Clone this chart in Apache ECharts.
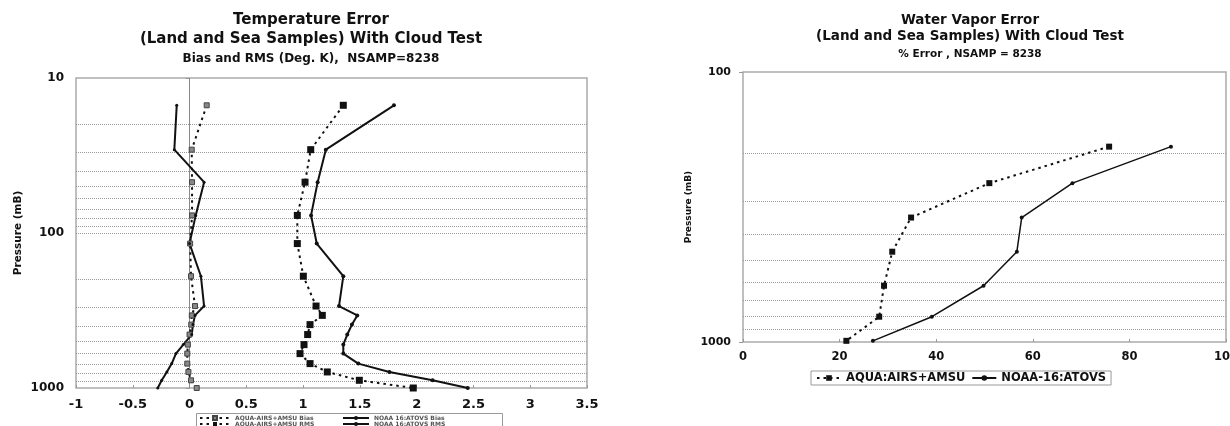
<!DOCTYPE html>
<html>
<head>
<meta charset="utf-8">
<script src="https://cdn.jsdelivr.net/npm/echarts@6/dist/echarts.min.js"></script>
<style>
  html, body { margin: 0; padding: 0; background: #fff; }
  #chart { width: 1230px; height: 426px; }
</style>
</head>
<body>
<div id="chart"></div>
<script>
// temperature panel: pressure levels (mB) and errors (deg K)
const tempLevels = [15, 29, 47, 77, 117, 190, 296, 340, 390, 452, 525, 600, 696, 788, 892, 1000];
const aquaBias = [0.151, 0.019, 0.022, 0.022, 0.005, 0.013, 0.048, 0.02, 0.015, 0.0, -0.015, -0.02, -0.02, -0.01, 0.013, 0.063];
const aquaRms = [1.354, 1.067, 1.017, 0.949, 0.949, 1.002, 1.114, 1.169, 1.061, 1.04, 1.008, 0.973, 1.061, 1.213, 1.495, 1.97];
const noaaBias = [-0.113, -0.134, 0.128, 0.054, 0.0, 0.10, 0.128, 0.048, 0.03, 0.019, -0.055, -0.12, -0.157, -0.2, -0.245, -0.28];
const noaaRms = [1.80, 1.20, 1.128, 1.07, 1.12, 1.354, 1.316, 1.477, 1.43, 1.389, 1.354, 1.354, 1.486, 1.76, 2.14, 2.45];

// water vapour panel: pressure levels (mB) and % error
const wvLevels = [189, 258, 346, 463, 619, 806, 990];
const aquaWv = [75.8, 51.0, 34.8, 30.9, 29.2, 28.2, 21.4];
const noaaWv = [88.6, 68.2, 57.7, 56.7, 49.8, 39.1, 26.9];

// dotted horizontal grid levels
const tempGrid = [20, 30, 40, 50, 60, 70, 80, 90, 100, 200, 300, 400, 500, 600, 700, 800, 900];
const wvGrid = [200, 300, 400, 500, 600, 700, 800, 900];

const FONT = 'DejaVu Sans';
const INK = '#111';

const pairs = (xs, ps) => xs.map((x, i) => [x, ps[i]]);
const bold = (size, extra) => Object.assign({fontFamily: FONT, fontWeight: 'bold', fontSize: size, color: INK}, extra || {});
const gridLines = (levels) => levels.map(p => ({yAxis: p, lineStyle: {type: 'dotted', color: '#9a9a9a', width: 1}}));

const titleLine = (text, x, top, size) => ({
  text, left: x, top, textAlign: 'center', padding: 0,
  textStyle: bold(size, {lineHeight: size + 3})
});

const dotted = [2.5, 4];

// small two-row legend under the temperature panel
const smallLegend = (names, x, iconW) => ({
  data: names, left: x, top: 415, height: 20, orient: 'vertical',
  itemGap: 0, padding: 0, itemWidth: iconW, itemHeight: 5, selectedMode: false,
  textStyle: bold(6, {color: '#555', lineHeight: 6})
});

const chart = echarts.init(document.getElementById('chart'));

chart.setOption({
  animation: false,
  backgroundColor: '#fff',
  title: [
    titleLine('Temperature Error', 311, 11, 15),
    titleLine('(Land and Sea Samples) With Cloud Test', 311, 30, 15),
    titleLine('Bias and RMS (Deg. K),  NSAMP=8238', 311, 51, 12),
    titleLine('Water Vapor Error', 970, 12, 13.5),
    titleLine('(Land and Sea Samples) With Cloud Test', 970, 28, 13.5),
    titleLine('% Error , NSAMP = 8238', 970, 48, 10.5)
  ],
  grid: [
    {left: 76, top: 78, width: 511, height: 310, show: true, borderColor: '#aaa', borderWidth: 1.5, outerBoundsMode: 'none'},
    {left: 743, top: 72, width: 483, height: 270, show: true, borderColor: '#aaa', borderWidth: 1.5, outerBoundsMode: 'none'}
  ],
  xAxis: [
    {
      gridIndex: 0, type: 'value', min: -1, max: 3.5, interval: 0.5,
      axisLine: {show: false},
      axisTick: {show: true, inside: true, length: 3, lineStyle: {color: '#999'}},
      splitLine: {show: false},
      axisLabel: Object.assign(bold(13), {margin: 10})
    },
    {
      gridIndex: 1, type: 'value', min: 0, max: 100, interval: 20,
      axisLine: {show: false},
      axisTick: {show: true, inside: true, length: 3, lineStyle: {color: '#999'}},
      splitLine: {show: false},
      axisLabel: Object.assign(bold(11.5), {margin: 9})
    }
  ],
  yAxis: [
    {
      gridIndex: 0, type: 'log', logBase: 10, min: 10, max: 1000, inverse: true,
      name: 'Pressure (mB)', nameLocation: 'middle', nameGap: 52, nameRotate: 90,
      nameTextStyle: bold(10.5),
      axisLine: {show: false},
      axisTick: {show: true, length: 4, lineStyle: {color: '#999'}},
      splitLine: {show: false},
      axisLabel: Object.assign(bold(12), {margin: 12, formatter: v => String(Math.round(v))})
    },
    {
      gridIndex: 1, type: 'log', logBase: 10, min: 100, max: 1000, inverse: true,
      name: 'Pressure (mB)', nameLocation: 'middle', nameGap: 50, nameRotate: 90,
      nameTextStyle: bold(9),
      axisLine: {show: false},
      axisTick: {show: true, length: 4, lineStyle: {color: '#999'}},
      splitLine: {show: false},
      axisLabel: Object.assign(bold(11), {margin: 12, formatter: v => String(Math.round(v))})
    }
  ],
  legend: [
    smallLegend(['AQUA-AIRS+AMSU Bias', 'AQUA-AIRS+AMSU RMS'], 199, 30),
    smallLegend(['NOAA 16:ATOVS Bias', 'NOAA 16:ATOVS RMS'], 342, 26),
    {
      data: ['AQUA:AIRS+AMSU', 'NOAA-16:ATOVS'],
      left: 811, top: 371, orient: 'horizontal', padding: [1, 5],
      borderColor: '#999', borderWidth: 1, itemGap: 6,
      itemWidth: 24, itemHeight: 7, selectedMode: false,
      textStyle: bold(11.5, {lineHeight: 12})
    }
  ],
  graphic: [
    {type: 'rect', silent: true, shape: {x: 196.5, y: 413.5, width: 306, height: 20},
     style: {fill: 'none', stroke: '#999', lineWidth: 1}}
  ],
  series: [
    {
      name: 'AQUA-AIRS+AMSU Bias', type: 'line', xAxisIndex: 0, yAxisIndex: 0,
      data: pairs(aquaBias, tempLevels),
      symbol: 'rect', symbolSize: 5, showSymbol: true,
      itemStyle: {color: '#888', borderColor: '#444', borderWidth: 1},
      lineStyle: {color: INK, width: 2, type: dotted},
      emphasis: {disabled: true},
      markLine: {
        silent: true, symbol: 'none', z: 1, label: {show: false},
        data: gridLines(tempGrid).concat([{xAxis: 0, lineStyle: {type: 'solid', color: '#888', width: 1}}])
      }
    },
    {
      name: 'AQUA-AIRS+AMSU RMS', type: 'line', xAxisIndex: 0, yAxisIndex: 0,
      data: pairs(aquaRms, tempLevels),
      symbol: 'rect', symbolSize: 7, showSymbol: true,
      itemStyle: {color: INK},
      lineStyle: {color: INK, width: 2, type: dotted},
      emphasis: {disabled: true}
    },
    {
      name: 'NOAA 16:ATOVS Bias', type: 'line', xAxisIndex: 0, yAxisIndex: 0,
      data: pairs(noaaBias, tempLevels),
      symbol: 'circle', symbolSize: 3, showSymbol: true,
      itemStyle: {color: INK},
      lineStyle: {color: INK, width: 2},
      emphasis: {disabled: true}
    },
    {
      name: 'NOAA 16:ATOVS RMS', type: 'line', xAxisIndex: 0, yAxisIndex: 0,
      data: pairs(noaaRms, tempLevels),
      symbol: 'circle', symbolSize: 4, showSymbol: true,
      itemStyle: {color: INK},
      lineStyle: {color: INK, width: 2},
      emphasis: {disabled: true}
    },
    {
      name: 'AQUA:AIRS+AMSU', type: 'line', xAxisIndex: 1, yAxisIndex: 1,
      data: pairs(aquaWv, wvLevels),
      symbol: 'rect', symbolSize: 6, showSymbol: true,
      itemStyle: {color: INK},
      lineStyle: {color: INK, width: 2, type: dotted},
      emphasis: {disabled: true},
      markLine: {
        silent: true, symbol: 'none', z: 1, label: {show: false},
        data: gridLines(wvGrid)
      }
    },
    {
      name: 'NOAA-16:ATOVS', type: 'line', xAxisIndex: 1, yAxisIndex: 1,
      data: pairs(noaaWv, wvLevels),
      symbol: 'circle', symbolSize: 4, showSymbol: true,
      itemStyle: {color: INK},
      lineStyle: {color: INK, width: 1.5},
      emphasis: {disabled: true}
    }
  ]
});
</script>
</body>
</html>
